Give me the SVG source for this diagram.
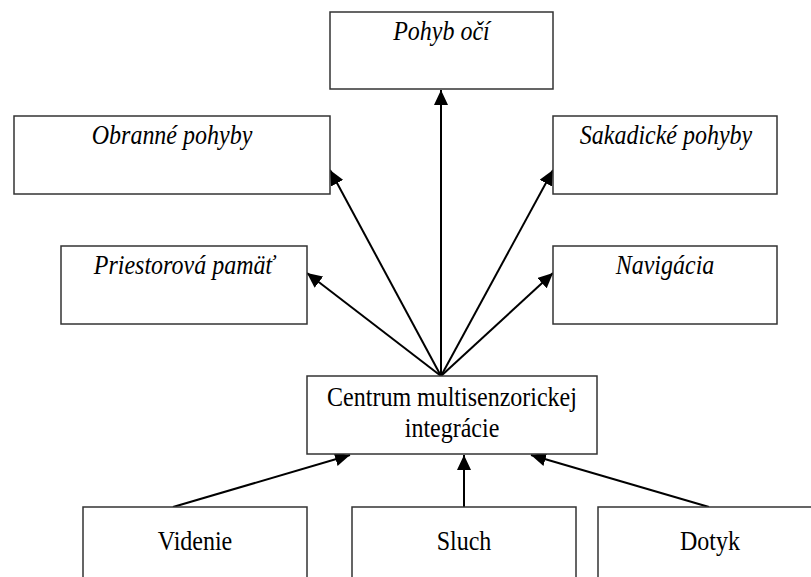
<svg xmlns="http://www.w3.org/2000/svg" width="811" height="577" viewBox="0 0 811 577">
<style>
.box{fill:#fff;stroke:#333;stroke-width:1.5}
.t{font-family:"Liberation Serif","DejaVu Serif",serif;font-size:24px;fill:#000;text-anchor:middle}
.i{font-style:italic}
.c{fill:none;stroke:#000;stroke-width:2}
</style>
<defs>
<marker id="ah" markerUnits="userSpaceOnUse" markerWidth="16" markerHeight="14" refX="15" refY="7" orient="auto">
<path d="M0,0 L15,7 L0,14 Z" fill="#000"/>
</marker>
</defs>
<rect width="811" height="577" fill="#fff"/>
<g id="connectors">
<line class="c" x1="441" y1="376" x2="441" y2="90" marker-end="url(#ah)"/>
<line class="c" x1="441" y1="376" x2="330" y2="170" marker-end="url(#ah)"/>
<line class="c" x1="441" y1="376" x2="553" y2="170" marker-end="url(#ah)"/>
<line class="c" x1="441" y1="376" x2="307" y2="273" marker-end="url(#ah)"/>
<line class="c" x1="441" y1="376" x2="553" y2="273" marker-end="url(#ah)"/>
<line class="c" x1="173" y1="507" x2="350" y2="455" marker-end="url(#ah)"/>
<line class="c" x1="464" y1="507" x2="464" y2="455" marker-end="url(#ah)"/>
<line class="c" x1="709" y1="507" x2="531" y2="455" marker-end="url(#ah)"/>
</g>
<g id="pohyb">
<rect class="box" x="330" y="12" width="223" height="77"/>
<text class="t i" transform="translate(441.5,40) scale(1,1.13)">Pohyb očí</text>
</g>
<g id="obranne">
<rect class="box" x="14" y="116" width="316" height="78"/>
<text class="t i" transform="translate(172,144) scale(1,1.13)">Obranné pohyby</text>
</g>
<g id="sakadicke">
<rect class="box" x="553" y="116" width="224" height="78"/>
<text class="t i" transform="translate(666,144) scale(1,1.13)">Sakadické pohyby</text>
</g>
<g id="priestorova">
<rect class="box" x="61" y="246" width="246" height="78"/>
<text class="t i" transform="translate(184,274) scale(1,1.13)">Priestorová pamäť</text>
</g>
<g id="navigacia">
<rect class="box" x="553" y="246" width="224" height="78"/>
<text class="t i" transform="translate(665,274) scale(1,1.13)">Navigácia</text>
</g>
<g id="centrum">
<rect class="box" x="307" y="376" width="290" height="78"/>
<text class="t" transform="translate(452,406) scale(1,1.13)">Centrum multisenzorickej</text>
<text class="t" transform="translate(452,437) scale(1,1.13)">integrácie</text>
</g>
<g id="videnie">
<rect class="box" x="83" y="507" width="224" height="90"/>
<text class="t" transform="translate(195,550) scale(1,1.13)">Videnie</text>
</g>
<g id="sluch">
<rect class="box" x="352" y="507" width="224" height="90"/>
<text class="t" transform="translate(464,550) scale(1,1.13)">Sluch</text>
</g>
<g id="dotyk">
<rect class="box" x="598" y="507" width="224" height="90"/>
<text class="t" transform="translate(710,550) scale(1,1.13)">Dotyk</text>
</g>
</svg>
